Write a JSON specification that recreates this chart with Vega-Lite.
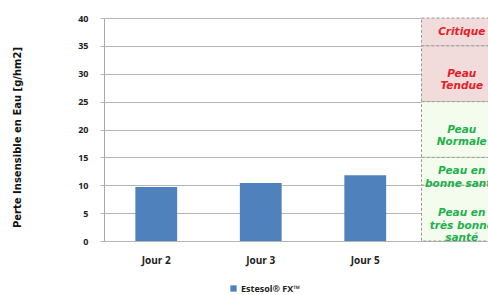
{
  "$schema": "https://vega.github.io/schema/vega-lite/v6.json",
  "autosize": "none",
  "width": 418,
  "height": 223,
  "padding": {"left": 104, "top": 18, "right": 0, "bottom": 54},
  "background": "white",
  "config": {
    "view": {"stroke": null},
    "font": "Open Sans",
    "axisY": {
      "titleFont": "DejaVu Sans",
      "titleFontWeight": "bold",
      "titleFontSize": 10,
      "titleColor": "#111111",
      "titleX": -87,
      "titleY": 119,
      "titleAngle": -90,
      "titleAlign": "center",
      "titleBaseline": "middle",
      "labelOverlap": false,
      "grid": true,
      "gridColor": "#b5b5b5",
      "gridWidth": 1,
      "domain": true,
      "domainColor": "#a8a8a8",
      "tickSize": 4,
      "tickColor": "#b5b5b5",
      "labelPadding": 12,
      "labelFont": "Open Sans",
      "labelFontWeight": "bold",
      "labelFontSize": 9,
      "labelColor": "#222222"
    }
  },
  "datasets": {
    "bars": [
      {"jour": "Jour 2", "serie": "Estesol® FX™", "valeur": 9.7},
      {"jour": "Jour 3", "serie": "Estesol® FX™", "valeur": 10.4},
      {"jour": "Jour 5", "serie": "Estesol® FX™", "valeur": 11.8}
    ],
    "zones": [
      {"jour": "Zones", "label": "Critique", "lo": 35, "hi": 40, "mid": 37.5},
      {"jour": "Zones", "label": "Peau\nTendue", "lo": 25, "hi": 35, "mid": 30},
      {"jour": "Zones", "label": "Peau\nNormale", "lo": 15, "hi": 25, "mid": 20},
      {"jour": "Zones", "label": "Peau en\nbonne santé", "lo": 10, "hi": 15, "mid": 12.5},
      {"jour": "Zones", "label": "Peau en\ntrès bonne\nsanté", "lo": 0, "hi": 10, "mid": 5}
    ]
  },
  "encoding": {
    "x": {
      "field": "jour",
      "type": "nominal",
      "scale": {"domain": ["Jour 2", "Jour 3", "Jour 5", "Zones"], "paddingInner": 0, "paddingOuter": 0},
      "axis": {
        "title": null,
        "domain": false,
        "ticks": false,
        "grid": false,
        "labelAngle": 0,
        "labelPadding": 14,
        "labelFont": "Open Sans",
        "labelFontWeight": "bold",
        "labelFontSize": 10,
        "labelColor": "#222222",
        "labelExpr": "datum.value == 'Zones' ? '' : datum.label"
      }
    }
  },
  "layer": [
    {
      "data": {"name": "bars"},
      "mark": {"type": "bar", "width": {"band": 0.4}},
      "encoding": {
        "y": {
          "field": "valeur",
          "type": "quantitative",
          "scale": {"domain": [0, 40], "nice": false},
          "axis": {"title": "Perte Insensible en Eau [g/hm2]", "values": [0, 5, 10, 15, 20, 25, 30, 35, 40]}
        },
        "color": {
          "field": "serie",
          "type": "nominal",
          "scale": {"range": ["#4f81bd"]},
          "legend": {
            "title": null,
            "orient": "none",
            "legendX": 125,
            "legendY": 266,
            "symbolType": "square",
            "symbolSize": 40,
            "symbolStrokeWidth": 0,
            "labelFont": "Open Sans",
            "labelFontWeight": "bold",
            "labelFontSize": 9,
            "labelColor": "#222222",
            "labelOffset": 3
          }
        }
      }
    },
    {
      "data": {"name": "zones"},
      "mark": {"type": "rect", "xOffset": 4, "stroke": "#9a9a9a", "strokeWidth": 1, "strokeDash": [3, 2]},
      "encoding": {
        "y": {"field": "lo", "type": "quantitative", "axis": {"title": "Perte Insensible en Eau [g/hm2]", "values": [0, 5, 10, 15, 20, 25, 30, 35, 40]}},
        "y2": {"field": "hi"},
        "fill": {
          "condition": {"test": "datum.hi > 25", "value": "#f2dcdb"},
          "value": "#f4fcee"
        }
      }
    },
    {
      "data": {"name": "zones"},
      "mark": {
        "type": "text",
        "dx": -8,
        "lineBreak": "\n",
        "lineHeight": 12.5,
        "font": "DejaVu Sans",
        "fontWeight": "bold",
        "fontStyle": "italic",
        "fontSize": 10.5,
        "align": "center",
        "baseline": "middle"
      },
      "encoding": {
        "y": {"field": "mid", "type": "quantitative", "axis": {"title": "Perte Insensible en Eau [g/hm2]", "values": [0, 5, 10, 15, 20, 25, 30, 35, 40]}},
        "text": {"field": "label"},
        "color": {
          "condition": {"test": "datum.hi > 25", "value": "#e5202a"},
          "value": "#21b04b"
        }
      }
    }
  ]
}
